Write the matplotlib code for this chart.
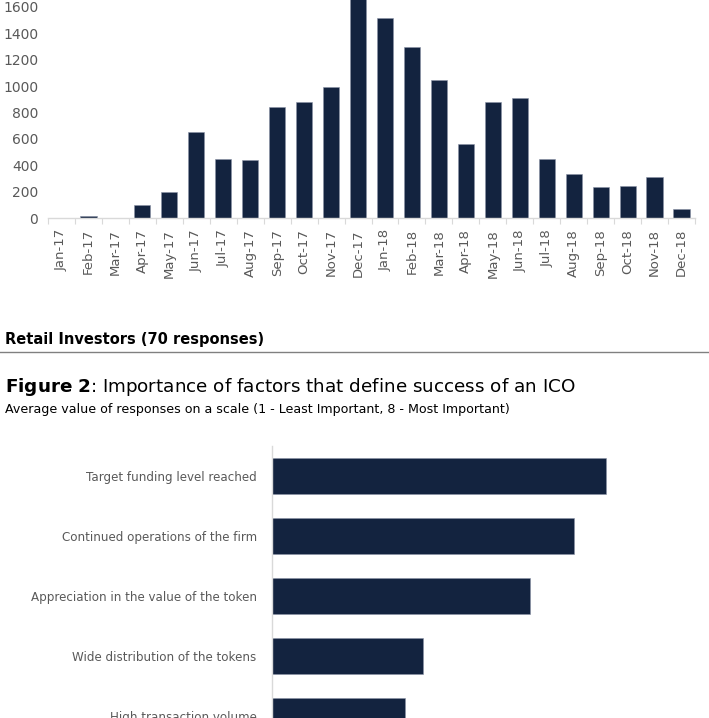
import matplotlib.pyplot as plt
import numpy as np
from matplotlib.lines import Line2D

# Monthly ICO counts (top chart)
months = ["Jan-17", "Feb-17", "Mar-17", "Apr-17", "May-17", "Jun-17", "Jul-17", "Aug-17",
          "Sep-17", "Oct-17", "Nov-17", "Dec-17", "Jan-18", "Feb-18", "Mar-18", "Apr-18",
          "May-18", "Jun-18", "Jul-18", "Aug-18", "Sep-18", "Oct-18", "Nov-18", "Dec-18"]
counts = [0, 15, 3, 101, 197, 650, 450, 440, 844, 882, 991, 1800, 1516, 1296, 1046, 558,
          877, 907, 447, 336, 238, 240, 308, 71]
yticks_top = [0, 200, 400, 600, 800, 1000, 1200, 1400, 1600]

# Success factors (bottom chart)
factors = ["Target funding level reached", "Continued operations of the firm",
           "Appreciation in the value of the token", "Wide distribution of the tokens",
           "High transaction volume"]
scores = [5.47, 4.94, 4.22, 2.47, 2.18]

navy = "#13233f"
grey_txt = "#595959"
axis_grey = "#d9d9d9"

fig = plt.figure(figsize=(7.09, 7.18), dpi=100)

# top bar chart
ax1 = fig.add_axes([48 / 709, 1 - 218 / 718, 647 / 709, 218 / 718])
x = np.arange(len(months))
ax1.bar(x, counts, width=0.6, color=navy, edgecolor="#8a93a6", linewidth=0.4)
ax1.set_xlim(-0.5, len(months) - 0.5)
ax1.set_ylim(0, 1653)
ax1.set_yticks(yticks_top)
ax1.set_xticks(x)
ax1.set_xticklabels(months, rotation=90, fontsize=9.5, color=grey_txt)
ax1.set_xticks(np.arange(-0.5, len(months), 1), minor=True)
ax1.tick_params(axis="x", which="major", length=0, pad=8)
ax1.tick_params(axis="x", which="minor", length=4, color=axis_grey, width=0.8)
ax1.tick_params(axis="y", length=0, labelsize=10, labelcolor=grey_txt, pad=7)
for s in ["top", "right", "left"]:
    ax1.spines[s].set_visible(False)
ax1.spines["bottom"].set_color(axis_grey)
ax1.spines["bottom"].set_linewidth(1)

# headings
fig.text(5 / 709, 1 - 340 / 718, "Retail Investors (70 responses)", fontsize=10.5,
         fontweight="bold", color="#000000", va="center", ha="left")
fig.add_artist(Line2D([0, 1], [1 - 352 / 718, 1 - 352 / 718], color="#808080", lw=1))
fig.text(5 / 709, 1 - 387 / 718, r"$\bf{Figure\ 2}$: Importance of factors that define success of an ICO",
         fontsize=13.2, color="#000000", va="center", ha="left")
fig.text(5 / 709, 1 - 410 / 718,
         "Average value of responses on a scale (1 - Least Important, 8 - Most Important)",
         fontsize=9.1, color="#000000", va="center", ha="left")

# bottom horizontal bar chart (cropped at bottom, as in the source)
ax2 = fig.add_axes([272 / 709, 1 - 746 / 718, 428 / 709, 300 / 718])
y = np.arange(len(factors))
ax2.barh(y, scores, height=0.6, color=navy, edgecolor="#8a93a6", linewidth=0.4)
ax2.set_xlim(0, 7)
ax2.set_ylim(len(factors) - 0.5, -0.5)
ax2.set_yticks(y)
ax2.set_yticklabels(factors, fontsize=8.6, color=grey_txt)
ax2.tick_params(axis="y", length=0, pad=11)
ax2.set_xticks([])
for s in ["top", "right", "bottom"]:
    ax2.spines[s].set_visible(False)
ax2.spines["left"].set_color(axis_grey)
ax2.spines["left"].set_linewidth(1)

fig.savefig("out.png", dpi=100)
